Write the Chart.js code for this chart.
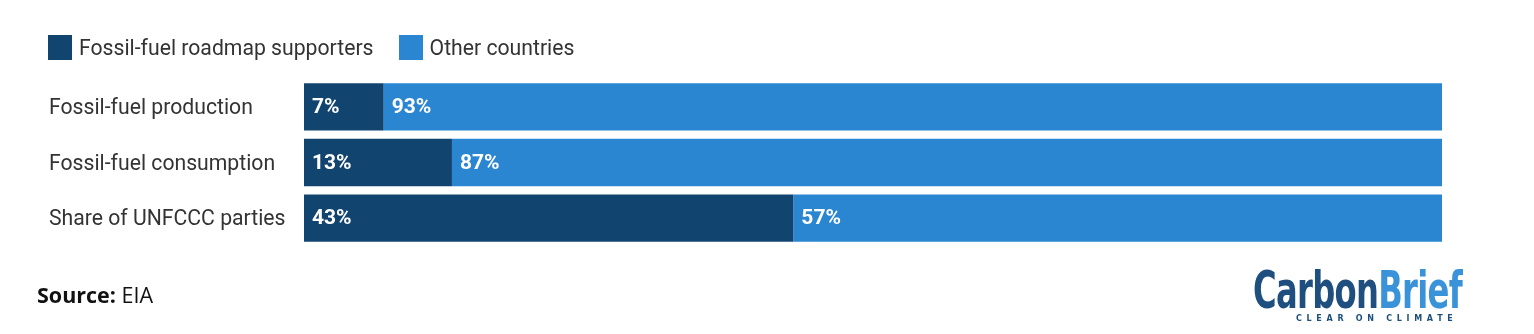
<!DOCTYPE html>
<html>
<head>
<meta charset="utf-8">
<script src="https://cdn.jsdelivr.net/npm/chart.js@4"></script>
<style>
  html,body{margin:0;padding:0;background:#fff;width:1534px;height:334px;overflow:hidden;font-family:Roboto,"Noto Sans",sans-serif;}
  #wrap{position:absolute;left:0;top:0;width:1534px;height:334px;}
  .legend{position:absolute;top:35px;left:48px;display:flex;align-items:center;font-size:21.2px;color:#333;}
  .sw{width:24px;height:25px;margin-right:7px;}
  .item{display:flex;align-items:center;margin-right:25px;}
  .source{position:absolute;left:37px;top:280px;font-family:"Open Sans","Noto Sans",sans-serif;font-size:21.5px;color:#111;}
  .source b{font-weight:700;}
  .logo{position:absolute;left:1253px;top:265px;width:210px;height:66px;}
  .logo .main{position:absolute;left:0;top:0;font-family:"Liberation Sans Narrow","DejaVu Sans Condensed","Roboto Condensed",sans-serif;font-weight:700;font-size:52px;line-height:50px;transform-origin:0 0;white-space:nowrap;letter-spacing:-1px;}
  .logo .tag{position:absolute;left:43px;top:49px;font-family:"DejaVu Sans",sans-serif;font-weight:700;font-size:8px;letter-spacing:4.7px;color:#1d4f7c;white-space:nowrap;}
</style>
</head>
<body>
<div id="wrap"><canvas id="c" width="1534" height="334"></canvas></div>
<div class="legend">
  <div class="item"><div class="sw" id="sw0"></div><span id="lg0"></span></div>
  <div class="item"><div class="sw" id="sw1"></div><span id="lg1"></span></div>
</div>
<div class="source"><b>Source:</b> EIA</div>
<div class="logo"><div class="main" id="logoMain"><span style="color:#1f4f7e">Carbon</span><span style="color:#3a93d8">Brief</span></div><div class="tag">CLEAR ON CLIMATE</div></div>
<script>
const categories = ["Fossil-fuel production", "Fossil-fuel consumption", "Share of UNFCCC parties"];
const seriesNames = ["Fossil-fuel roadmap supporters", "Other countries"];
const supporters = [7, 13, 43];
const others = [93, 87, 57];
const colors = ["#11446f", "#2b86d1"];

document.getElementById('sw0').style.background = colors[0];
document.getElementById('sw1').style.background = colors[1];
document.getElementById('lg0').textContent = seriesNames[0];
document.getElementById('lg1').textContent = seriesNames[1];

// fit logo width
const lm = document.getElementById('logoMain');
const w = lm.getBoundingClientRect().width;
lm.style.transform = `scale(${209 / w}, 1)`;

const labelPlugin = {
  id: 'barLabels',
  afterDatasetsDraw(chart) {
    const ctx = chart.ctx;
    ctx.save();
    ctx.font = 'bold 21px Roboto, sans-serif';
    ctx.fillStyle = '#ffffff';
    ctx.textAlign = 'left';
    ctx.textBaseline = 'middle';
    chart.data.datasets.forEach((ds, i) => {
      const meta = chart.getDatasetMeta(i);
      meta.data.forEach((bar, j) => {
        const left = Math.min(bar.x, bar.base);
        ctx.fillText(ds.data[j] + '%', left + 8, bar.y + 1);
      });
    });
    ctx.restore();
  }
};

new Chart(document.getElementById('c'), {
  type: 'bar',
  data: {
    labels: categories,
    datasets: [
      { label: seriesNames[0], data: supporters, backgroundColor: colors[0], borderWidth: 0 },
      { label: seriesNames[1], data: others, backgroundColor: colors[1], borderWidth: 0 }
    ]
  },
  options: {
    indexAxis: 'y',
    responsive: false,
    animation: false,
    layout: { padding: { left: 49, right: 92, top: 79, bottom: 88 } },
    datasets: { bar: { barPercentage: 1, categoryPercentage: 0.85 } },
    plugins: { legend: { display: false }, tooltip: { enabled: false } },
    scales: {
      x: { stacked: true, min: 0, max: 100, display: false },
      y: {
        stacked: true,
        grid: { display: false },
        border: { display: false },
        ticks: { crossAlign: 'far', color: '#333', font: { family: 'Roboto', size: 21.2 }, padding: 0, labelOffset: 2 },
        afterFit(scale) { scale.width = 255; }
      }
    }
  },
  plugins: [labelPlugin]
});
</script>
</body>
</html>
